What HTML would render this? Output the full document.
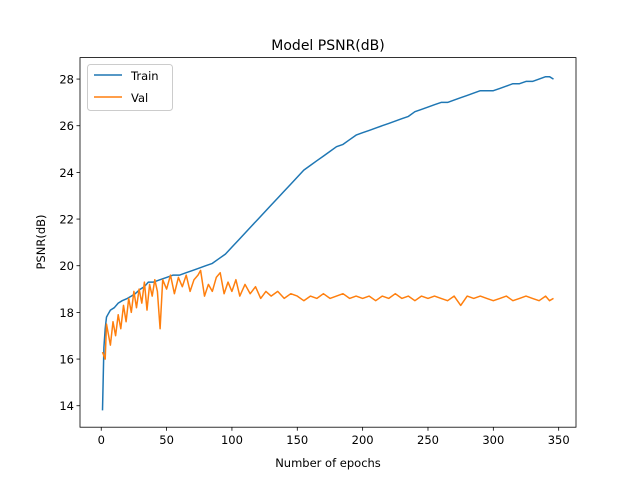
<!DOCTYPE html>
<html><head><meta charset="utf-8"><style>body{margin:0;background:#fff}svg{display:block;font-family:"DejaVu Sans","Liberation Sans",sans-serif}</style></head>
<body>
<svg id="chart" width="640" height="480"></svg>
<script>
const trainEpochs=[1,2,3,4,5,7,10,13,16,20,23,26,30,33,36,40,45,50,55,60,65,70,75,80,85,90,95,100,105,110,115,120,125,130,135,140,145,150,155,160,165,170,175,180,185,190,195,200,205,210,215,220,225,230,235,240,245,250,255,260,265,270,275,280,285,290,295,300,305,310,315,320,325,330,335,340,343,346];
const trainVals=[13.8,16.5,17.3,17.8,17.9,18.1,18.2,18.4,18.5,18.6,18.7,18.8,19.0,19.1,19.3,19.3,19.4,19.5,19.6,19.6,19.7,19.8,19.9,20.0,20.1,20.3,20.5,20.8,21.1,21.4,21.7,22.0,22.3,22.6,22.9,23.2,23.5,23.8,24.1,24.3,24.5,24.7,24.9,25.1,25.2,25.4,25.6,25.7,25.8,25.9,26.0,26.1,26.2,26.3,26.4,26.6,26.7,26.8,26.9,27.0,27.0,27.1,27.2,27.3,27.4,27.5,27.5,27.5,27.6,27.7,27.8,27.8,27.9,27.9,28.0,28.1,28.1,28.0];
const valEpochs=[1,3,4,5,7,9,11,13,15,17,19,21,23,25,27,29,31,33,35,37,39,41,43,45,47,50,53,56,59,62,65,68,71,74,76,79,82,85,88,91,94,97,100,103,106,110,114,118,122,126,130,135,140,145,150,155,160,165,170,175,180,185,190,195,200,205,210,215,220,225,230,235,240,245,250,255,260,265,270,275,280,285,290,295,300,305,310,315,320,325,330,335,340,343,346];
const valVals=[16.3,16.0,17.5,17.2,16.6,17.6,17.0,17.9,17.3,18.3,17.6,18.6,18.0,18.9,18.2,19.0,18.4,19.3,18.1,19.2,18.7,19.4,18.9,17.3,19.4,19.0,19.6,18.8,19.5,19.1,19.6,18.9,19.4,19.6,19.8,18.7,19.2,18.9,19.5,19.7,18.8,19.3,18.9,19.4,18.7,19.2,18.8,19.1,18.6,18.9,18.7,18.9,18.6,18.8,18.7,18.5,18.7,18.6,18.8,18.6,18.7,18.8,18.6,18.7,18.6,18.7,18.5,18.7,18.6,18.8,18.6,18.7,18.5,18.7,18.6,18.7,18.6,18.5,18.7,18.3,18.7,18.6,18.7,18.6,18.5,18.6,18.7,18.5,18.6,18.7,18.6,18.5,18.7,18.5,18.6];
const xTicks=[0,50,100,150,200,250,300,350];
const yTicks=[14,16,18,20,22,24,26,28];
const L=80,R=576,T=57.6,B=427.2,X0=-16.25,X1=363.25,Y0=13.08,Y1=28.92;
const sx=v=>L+(v-X0)/(X1-X0)*(R-L), sy=v=>B-(v-Y0)/(Y1-Y0)*(B-T);
const svg=document.getElementById('chart');const NS='http://www.w3.org/2000/svg';
function mk(t,a,p){const e=document.createElementNS(NS,t);for(const k in a)e.setAttribute(k,a[k]);(p||svg).appendChild(e);return e;}
function line(xs,ys,c,name){const d=xs.map((x,i)=>(i?'L':'M')+sx(x).toFixed(1)+','+sy(ys[i]).toFixed(1)).join('');const p=mk('path',{d:d,fill:'none',stroke:c,'stroke-width':1.5,'stroke-linejoin':'round'});

}
line(trainEpochs,trainVals,'#1f77b4','train-line');
line(valEpochs,valVals,'#ff7f0e','val-line');
const fr=mk('rect',{x:L,y:T,width:R-L,height:B-T,fill:'none',stroke:'#000','stroke-width':0.8});


xTicks.forEach(v=>{const x=sx(v);mk('line',{x1:x,x2:x,y1:B,y2:B+3.5,stroke:'#000','stroke-width':0.8});const t=mk('text',{x:x,y:B+17,'text-anchor':'middle','font-size':11.5});t.textContent=v;

});
yTicks.forEach(v=>{const y=sy(v);mk('line',{x1:L-3.5,x2:L,y1:y,y2:y,stroke:'#000','stroke-width':0.8});const t=mk('text',{x:L-6,y:y+4.5,'text-anchor':'end','font-size':11.5});t.textContent=v;

});
</script>
<svg width="640" height="480" style="position:absolute;left:0;top:0;font-family:'DejaVu Sans','Liberation Sans',sans-serif">
<text x="328" y="50" text-anchor="middle" font-size="14">Model PSNR(dB)</text>
<text x="328" y="467" text-anchor="middle" font-size="11.5">Number of epochs</text>
<text x="0" y="0" transform="translate(45,242) rotate(-90)" text-anchor="middle" font-size="11.5">PSNR(dB)</text>
<g>
<rect x="87.5" y="64.5" width="85" height="46" rx="3" fill="#fff" fill-opacity="0.8" stroke="#ccc"/>
<line x1="94" x2="122" y1="75" y2="75" stroke="#1f77b4" stroke-width="1.5"/>
<text x="131" y="80" font-size="11.5">Train</text>
<line x1="94" x2="122" y1="97" y2="97" stroke="#ff7f0e" stroke-width="1.5"/>
<text x="131" y="102" font-size="11.5">Val</text>
</g>
</svg>
</body></html>
